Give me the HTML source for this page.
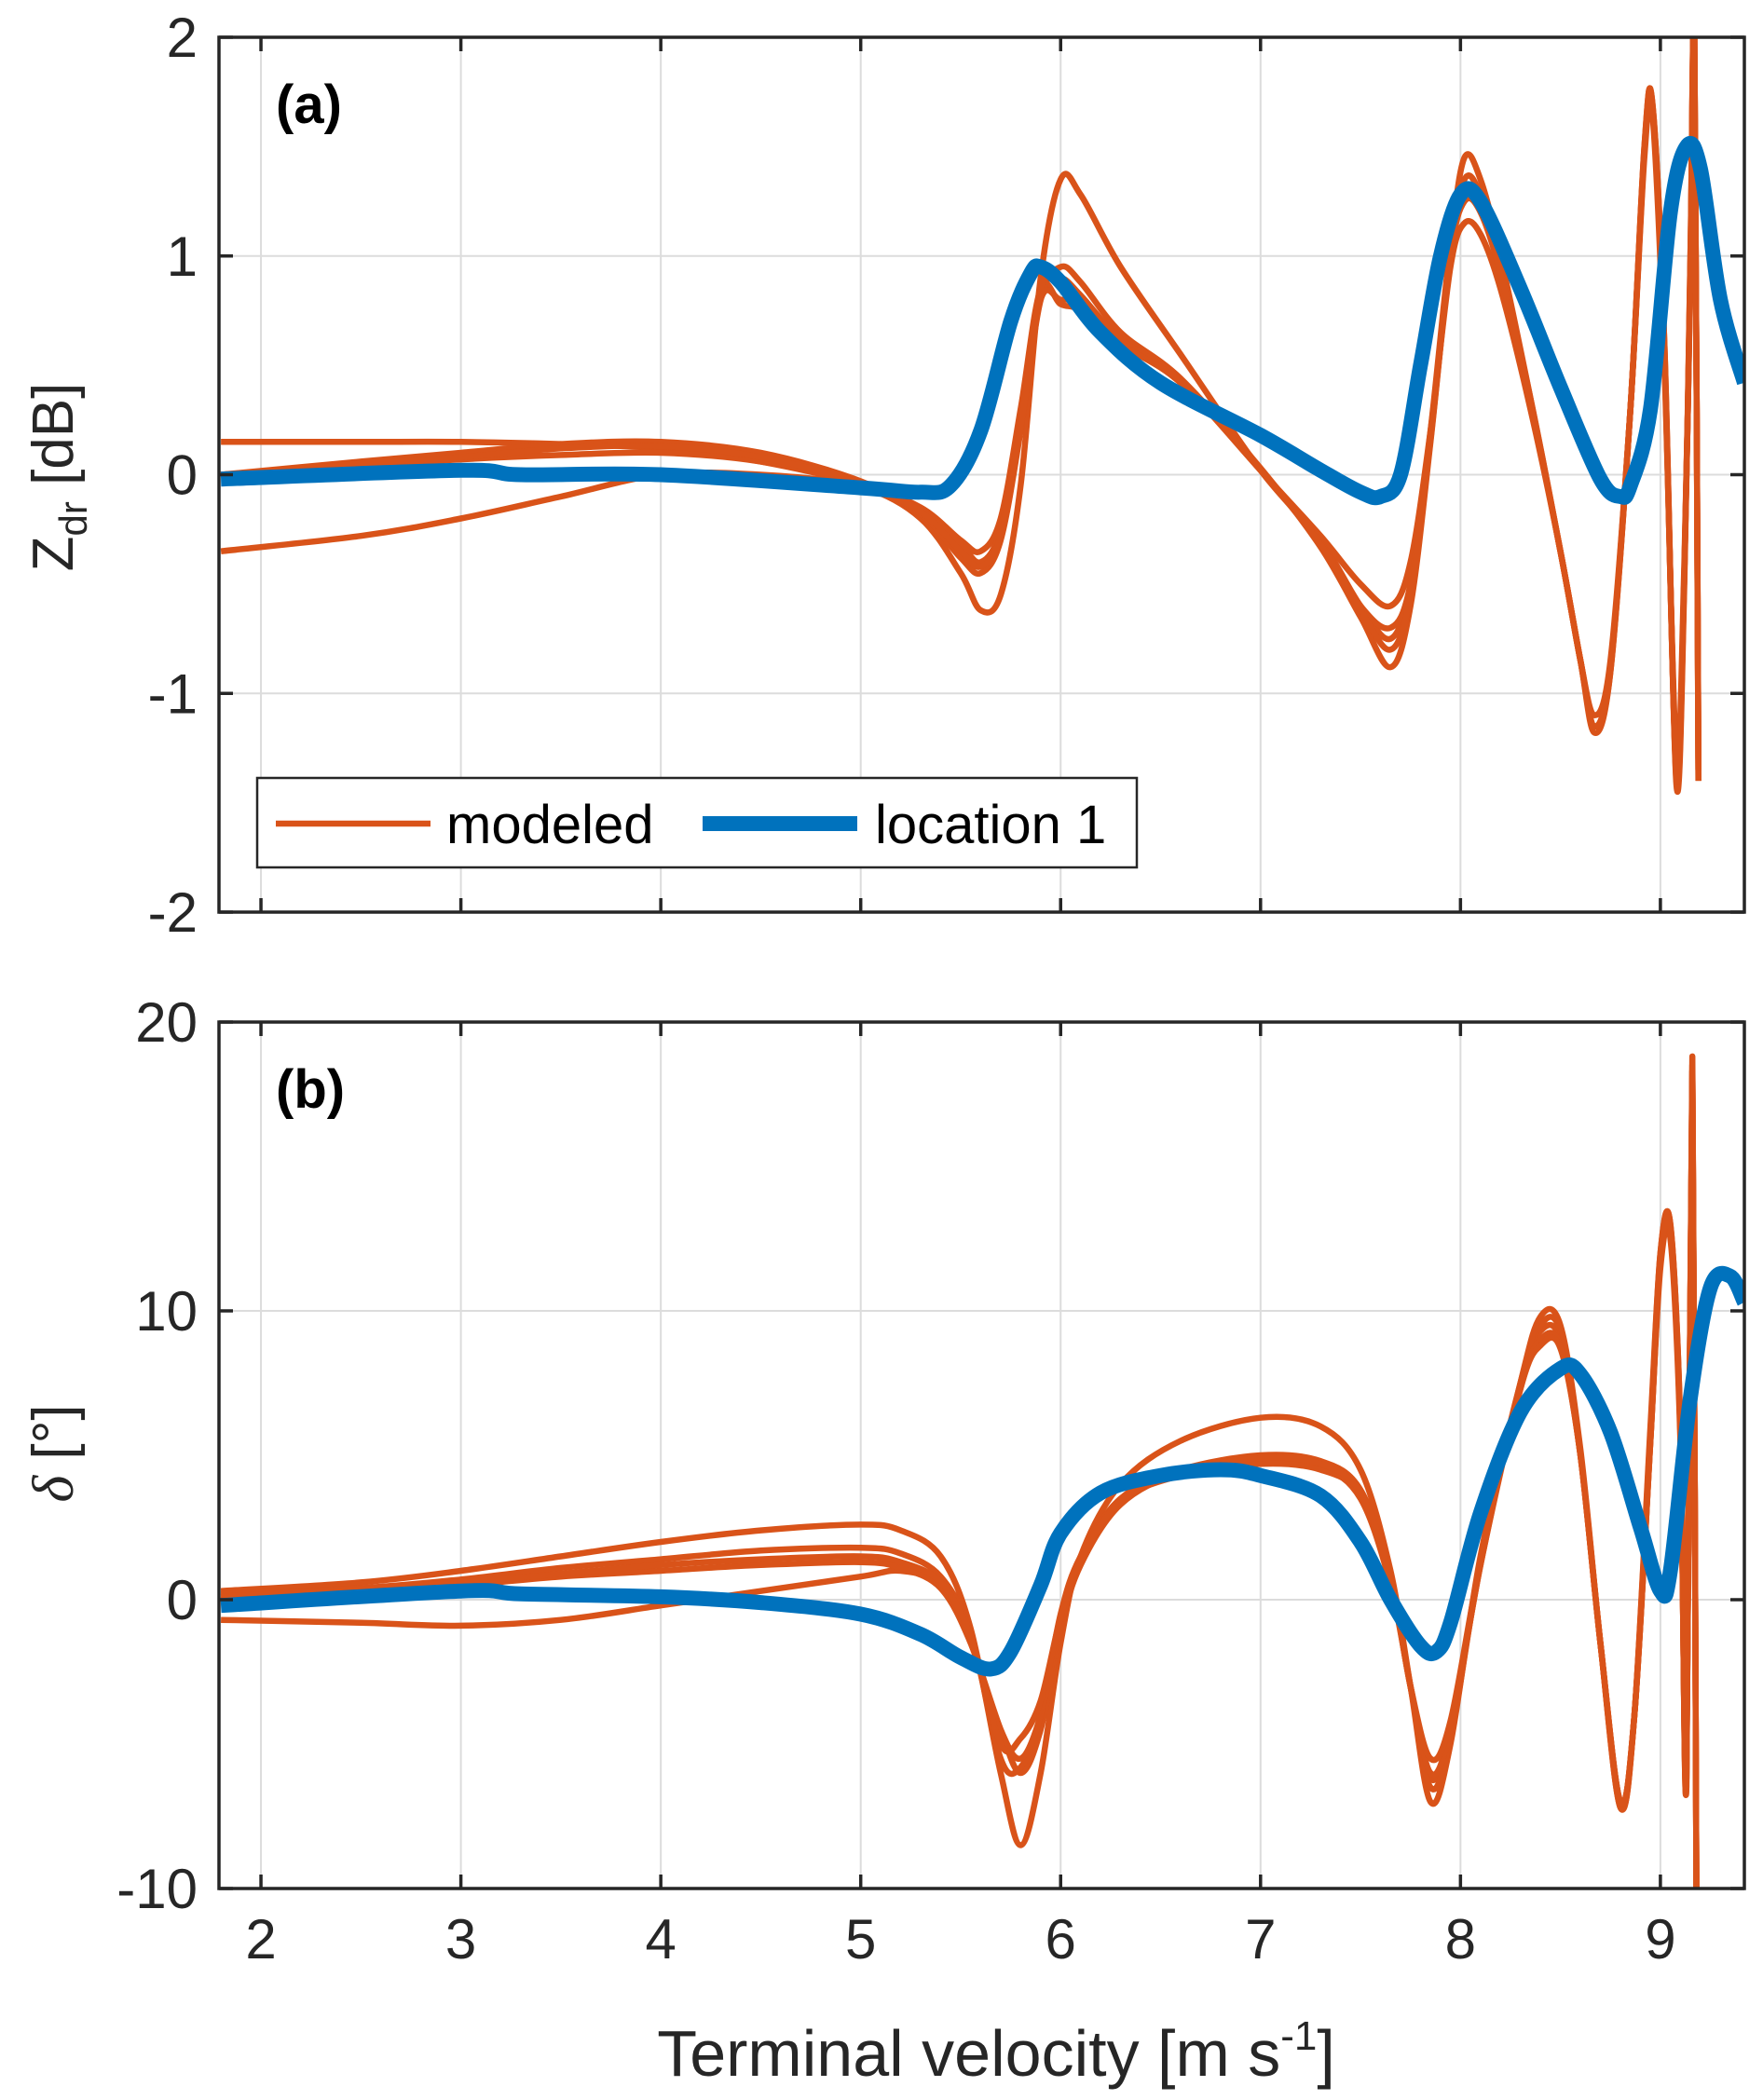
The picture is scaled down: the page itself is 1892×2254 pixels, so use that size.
<!DOCTYPE html>
<html><head><meta charset="utf-8"><style>
html,body{margin:0;padding:0;background:#fff;}
svg{display:block;font-family:"Liberation Sans",Arial,sans-serif;}
</style></head><body>
<svg id="chart" width="1892" height="2254" viewBox="0 0 1892 2254" xmlns="http://www.w3.org/2000/svg">
<defs>
<clipPath id="clipA"><rect x="235" y="40" width="1637" height="939"/></clipPath>
<clipPath id="clipB"><rect x="235" y="1097" width="1637" height="930"/></clipPath>
</defs>
<g id="gA"></g>
<g id="gB"></g>
<text x="1069" y="2228" font-size="70" text-anchor="middle" fill="#262626">Terminal velocity [m s<tspan font-size="44" dy="-28">-1</tspan><tspan dy="28">]</tspan></text>
<text transform="translate(78,512) rotate(-90)" font-size="62" text-anchor="middle" fill="#262626">Z<tspan font-size="42" dy="15">dr</tspan><tspan dy="-15"> [dB]</tspan></text>
<text transform="translate(78,1560) rotate(-90)" font-size="62" text-anchor="middle" fill="#262626"><tspan font-style="italic" font-family="Liberation Serif, serif">δ</tspan> [°]</text>
</svg>
<script>
// ---- data ----
const xTicks = [2,3,4,5,6,7,8,9];
const yTicksA = [-2,-1,0,1,2];
const yTicksB = [-10,0,10,20];
const blueAx = [1.8,3,3.3,4,5,5.3,5.45,5.6,5.75,5.85,5.9,6.0,6.2,6.5,7,7.3,7.5,7.6,7.7,7.8,7.9,8.0,8.1,8.3,8.5,8.7,8.8,8.85,8.95,9.05,9.13,9.2,9.3,9.42];
const blueAy = [-0.02,0.02,0.0,0.0,-0.06,-0.08,-0.05,0.2,0.7,0.92,0.95,0.88,0.65,0.42,0.18,0.02,-0.08,-0.1,0.0,0.5,1.0,1.28,1.25,0.85,0.4,-0.02,-0.1,-0.05,0.3,1.2,1.5,1.4,0.8,0.42];
const modAx = [1.8,2.5,3,3.5,4,4.5,5,5.3,5.5,5.6,5.7,5.8,5.9,6.0,6.1,6.3,6.6,7.0,7.3,7.5,7.65,7.75,7.85,7.95,8.02,8.1,8.2,8.35,8.5,8.6,8.67,8.75,8.85,8.92,8.96,9.02,9.08,9.12,9.15,9.17,9.19];
const modA1 = [0.15,0.15,0.15,0.14,0.12,0.06,-0.05,-0.2,-0.45,-0.62,-0.55,-0.05,0.9,1.35,1.28,0.95,0.55,0.02,-0.3,-0.6,-0.75,-0.5,0.2,1.05,1.45,1.35,1.0,0.35,-0.35,-0.85,-1.15,-0.9,0.3,1.5,1.7,0.6,-1.42,-0.5,1.0,2.0,-1.4];
const modA2 = [-0.35,-0.28,-0.2,-0.1,0.0,0.0,-0.05,-0.15,-0.3,-0.35,-0.2,0.3,0.85,0.78,0.75,0.6,0.42,0.02,-0.28,-0.5,-0.6,-0.4,0.2,0.95,1.15,1.1,0.85,0.3,-0.35,-0.85,-1.1,-0.85,0.3,1.45,1.65,0.5,-1.3,-0.4,0.9,1.9,-1.3];
const modA3 = [0.0,0.06,0.1,0.14,0.15,0.1,-0.03,-0.18,-0.38,-0.45,-0.3,0.2,0.8,0.95,0.88,0.65,0.44,0.03,-0.33,-0.65,-0.88,-0.6,0.15,1.0,1.3,1.25,0.95,0.35,-0.35,-0.85,-1.18,-0.9,0.3,1.5,1.7,0.6,-1.4,-0.45,1.0,2.0,-1.4];
const modA4 = [0.0,0.04,0.07,0.09,0.1,0.06,-0.04,-0.16,-0.32,-0.4,-0.25,0.25,0.85,0.9,0.82,0.62,0.43,0.02,-0.31,-0.6,-0.7,-0.5,0.18,1.0,1.35,1.28,0.95,0.33,-0.35,-0.85,-1.15,-0.88,0.3,1.48,1.68,0.55,-1.38,-0.45,0.95,2.0,-1.35];
const modA5 = [0.0,0.05,0.08,0.12,0.13,0.08,-0.04,-0.17,-0.35,-0.42,-0.28,0.22,0.8,0.8,0.78,0.6,0.42,0.02,-0.32,-0.62,-0.8,-0.55,0.16,1.0,1.25,1.2,0.92,0.33,-0.35,-0.85,-1.15,-0.88,0.3,1.48,1.68,0.55,-1.38,-0.45,0.95,2.0,-1.35];
const blueBx = [1.8,3,3.3,4,4.5,5,5.3,5.5,5.65,5.75,5.9,6.0,6.2,6.5,6.8,7.0,7.3,7.5,7.65,7.8,7.88,7.95,8.1,8.3,8.5,8.6,8.75,8.9,9.0,9.05,9.15,9.25,9.35,9.42];
const blueBy = [-0.2,0.3,0.2,0.1,-0.1,-0.5,-1.2,-2.0,-2.4,-1.8,0.5,2.3,3.7,4.3,4.5,4.3,3.6,2.0,0.0,-1.6,-1.8,-0.8,3.0,6.5,8.0,7.8,5.8,2.5,0.3,1.0,7.0,10.8,11.2,10.3];
const modBx = [1.8,2.5,3,3.5,4,4.5,5,5.2,5.4,5.55,5.7,5.8,5.9,6.0,6.1,6.3,6.6,7.0,7.3,7.5,7.65,7.75,7.85,7.95,8.1,8.3,8.4,8.5,8.6,8.7,8.8,8.87,8.95,9.0,9.05,9.1,9.13,9.16,9.18,9.19];
const modB1 = [0.3,0.6,1.0,1.5,2.0,2.4,2.6,2.4,1.5,-1,-6,-8.5,-6,-1.5,1.5,4.0,5.5,6.3,6.0,4.5,1.0,-3,-7,-5,1.5,7.5,9.3,9.0,5.0,-1.5,-7.2,-4,6,12,13,6,-6.5,18.8,-10,-10];
const modB2 = [-0.7,-0.8,-0.9,-0.7,-0.2,0.3,0.8,1.0,0.5,-1.5,-4.5,-6.0,-4.5,-1,1.2,3.3,4.4,4.8,4.6,3.5,0.5,-3,-6.2,-4.5,1.2,7.5,9.5,9.3,5.0,-1.5,-7,-4,5.5,11.5,12.5,5.5,-6,18,-10,-10];
const modB3 = [0.2,0.4,0.7,1.1,1.4,1.7,1.8,1.6,0.8,-1.2,-5.5,-5.8,-4,-0.5,1.5,3.5,4.5,5.0,4.8,3.8,0.8,-3,-6.5,-4.8,1.3,7.5,9.8,9.5,5.2,-1.5,-7.2,-4,5.8,12,13,6,-6.5,18.5,-10,-10];
const modB4 = [0.0,0.3,0.5,0.8,1.0,1.2,1.3,1.1,0.4,-1.5,-4.5,-5.5,-4,-0.8,1.3,3.4,4.3,4.7,4.5,3.6,0.6,-3,-6,-4.5,1.2,7.3,9.0,8.8,5,-1.5,-7,-4,5.5,11.8,12.8,5.8,-6.2,18.3,-10,-10];
const modB5 = [0.1,0.4,0.6,0.9,1.2,1.4,1.5,1.3,0.6,-1.3,-5,-4.8,-3.5,-0.6,1.4,3.4,4.4,4.9,4.7,3.7,0.7,-3,-5.5,-4.2,1.3,7.3,8.8,8.7,5,-1.5,-7,-4,5.5,11.8,12.8,5.8,-6.2,18.3,-10,-10];

// ---- layout ----
const NS = "http://www.w3.org/2000/svg";
const L = 235, R = 1872, X0 = 1.79, X1 = 9.42;
const xs = v => L + (v - X0) / (X1 - X0) * (R - L);
function mk(tag, attrs, parent){ const e=document.createElementNS(NS,tag); for(const k in attrs) e.setAttribute(k,attrs[k]); parent.appendChild(e); return e; }
function pathFrom(xa, ya, sx, sy){
  const p = xa.map((x,i)=>[sx(x), sy(ya[i])]);
  let d = "M"+p[0][0].toFixed(1)+","+p[0][1].toFixed(1);
  for(let i=0;i<p.length-1;i++){
    const p0=p[Math.max(0,i-1)], p1=p[i], p2=p[i+1], p3=p[Math.min(p.length-1,i+2)];
    const c1x=p1[0]+(p2[0]-p0[0])/6, c1y=p1[1]+(p2[1]-p0[1])/6;
    const c2x=p2[0]-(p3[0]-p1[0])/6, c2y=p2[1]-(p3[1]-p1[1])/6;
    d+=" C"+c1x.toFixed(1)+","+c1y.toFixed(1)+" "+c2x.toFixed(1)+","+c2y.toFixed(1)+" "+p2[0].toFixed(1)+","+p2[1].toFixed(1);
  }
  return d;
}
function panel(g, T, B, Y0, Y1, yt, clip, mods, mx, bx, by, lab){
  const ys = v => B - (v - Y0)/(Y1 - Y0)*(B - T);
  xTicks.forEach(t=>{
    const gl = mk('line',{x1:xs(t),x2:xs(t),y1:T,y2:B,stroke:'#dcdcdc','stroke-width':2},g);
    
    
  });
  yt.forEach(t=>{
    const gl = mk('line',{x1:L,x2:R,y1:ys(t),y2:ys(t),stroke:'#dcdcdc','stroke-width':2},g);
    
    
  });
  const cg = mk('g',{'clip-path':'url(#'+clip+')'},g);
  
  
  mods.forEach(m=>{
    const p = mk('path',{d:pathFrom(mx,m,xs,ys),fill:'none',stroke:'#D95319','stroke-width':6.5,'stroke-linejoin':'round'},cg);
    
    
  });
  const bp = mk('path',{d:pathFrom(bx,by,xs,ys),fill:'none',stroke:'#0072BD','stroke-width':16,'stroke-linejoin':'round'},cg);
  
  
  const fr = mk('rect',{x:L,y:T,width:R-L,height:B-T,fill:'none',stroke:'#262626','stroke-width':3.5},g);
  
  
  xTicks.forEach(t=>{
    mk('line',{x1:xs(t),x2:xs(t),y1:B,y2:B-15,stroke:'#262626','stroke-width':3.5},g);
    mk('line',{x1:xs(t),x2:xs(t),y1:T,y2:T+15,stroke:'#262626','stroke-width':3.5},g);
    if(B>1500){
      const tx = mk('text',{x:xs(t),y:2102,'font-size':60,'text-anchor':'middle',fill:'#262626'},g);
      tx.textContent = t;
      
      
    }
  });
  yt.forEach(t=>{
    mk('line',{x1:L,x2:L+15,y1:ys(t),y2:ys(t),stroke:'#262626','stroke-width':3.5},g);
    mk('line',{x1:R,x2:R-15,y1:ys(t),y2:ys(t),stroke:'#262626','stroke-width':3.5},g);
    const tx = mk('text',{x:212,y:ys(t)+21,'font-size':60,'text-anchor':'end',fill:'#262626'},g);
    tx.textContent = t;
    
    
  });
  const pl = mk('text',{x:296,y:T+92,'font-size':58,'font-weight':'bold',fill:'#000'},g);
  pl.textContent = lab;
  
  
}
panel(document.getElementById('gA'),40,979,-2,2,yTicksA,'clipA',[modA1,modA2,modA3,modA4,modA5],modAx,blueAx,blueAy,'(a)');
panel(document.getElementById('gB'),1097,2027,-10,20,yTicksB,'clipB',[modB1,modB2,modB3,modB4,modB5],modBx,blueBx,blueBy,'(b)');

// legend
const gA = document.getElementById('gA');
const lg = mk('g',{},gA);


mk('rect',{x:276,y:835,width:944,height:96,fill:'#fff',stroke:'#262626','stroke-width':2.5},lg);
const l1 = mk('line',{x1:296,x2:462,y1:884,y2:884,stroke:'#D95319','stroke-width':6.5},lg);


const t1 = mk('text',{x:479,y:905,'font-size':58,fill:'#000'},lg);
t1.textContent='modeled';


const l2 = mk('line',{x1:754,x2:920,y1:884,y2:884,stroke:'#0072BD','stroke-width':16},lg);


const t2 = mk('text',{x:939,y:905,'font-size':58,fill:'#000'},lg);
t2.textContent='location 1';


</script>
</body></html>
